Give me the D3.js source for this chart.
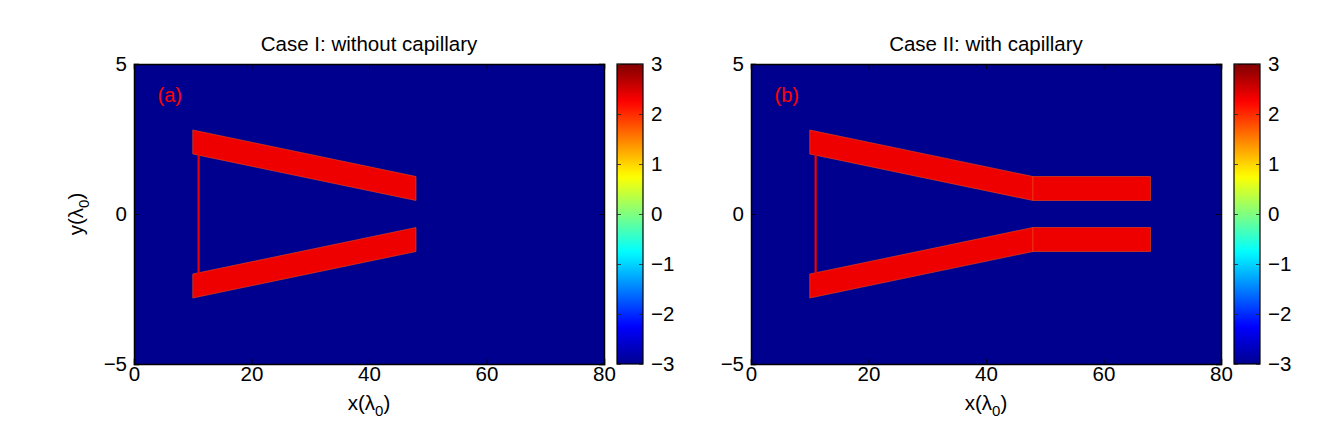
<!DOCTYPE html>
<html><head><meta charset="utf-8">
<script src="https://cdn.jsdelivr.net/npm/d3@7"></script>
<style>
body{margin:0;background:#fff;}
text{font-family:"Liberation Sans",Arial,Helvetica,sans-serif;}
</style></head>
<body>
<svg id="chart" width="1342" height="430"></svg>
<script>
// ---- data ----
const panelTitles = ["Case I: without capillary", "Case II: with capillary"];
const panelLabels = ["(a)", "(b)"];
const xTicks = [0, 20, 40, 60, 80];
const yTicks = [-5, 0, 5];
const cbTicks = [-3, -2, -1, 0, 1, 2, 3];
const xDomain = [0, 80];
const yDomain = [-5, 5];
const cDomain = [-3, 3];
const backgroundValue = -3;
// horn (tapered waveguide) arms: x positions and y edges
const hornX = [10, 48];
const upperTop = [2.8, 1.25];
const upperBottom = [2.0, 0.45];
const lowerTop = [-2.0, -0.45];
const lowerBottom = [-2.8, -1.25];
// back wall connecting the arms
const wallX = 11;
const wallY = [-2.0, 2.0];
// capillary (only case II)
const capX = [48, 68];
const capUpper = [0.45, 1.25];
const capLower = [-1.25, -0.45];
const hasCapillary = [false, true];

// ---- layout ----
const svg = d3.select("#chart");
const panels = [{x0: 134, cbx: 617}, {x0: 751, cbx: 1234}];
const W = 470, plotTop = 64, H = 300, cbW = 26;
const tickFont = 20.5;

// jet colormap
const jetStops = [[0,"#00008f"],[0.125,"#0000ff"],[0.375,"#00ffff"],[0.625,"#ffff00"],[0.875,"#ff0000"],[1,"#800000"]];
const jet = d3.scaleLinear().domain(jetStops.map(d=>d[0])).range(jetStops.map(d=>d[1])).interpolate(d3.interpolateRgb);
const cNorm = d3.scaleLinear().domain(cDomain).range([0,1]).clamp(true);
const colorOf = v => jet(cNorm(v));
const redCol = "#ee0000";
const blueCol = colorOf(backgroundValue);

const defs = svg.append("defs");
const grad = defs.append("linearGradient").attr("id","jetgrad").attr("x1",0).attr("y1",1).attr("x2",0).attr("y2",0);
d3.range(0, 1.0001, 0.02).forEach(t => grad.append("stop").attr("offset", t).attr("stop-color", jet(t)));

panels.forEach((p, i) => {
  const x = d3.scaleLinear().domain(xDomain).range([p.x0, p.x0 + W]);
  const y = d3.scaleLinear().domain(yDomain).range([plotTop + H, plotTop]);
  const g = svg.append("g");

  g.append("rect").attr("x", x(xDomain[0])).attr("y", y(yDomain[1]))
    .attr("width", x(xDomain[1]) - x(xDomain[0])).attr("height", y(yDomain[0]) - y(yDomain[1]))
    .attr("fill", blueCol);

  const poly = pts => "M" + pts.map(d => x(d[0]) + "," + y(d[1])).join("L") + "Z";
  const shapes = [
    [[hornX[0], upperBottom[0]], [hornX[0], upperTop[0]], [hornX[1], upperTop[1]], [hornX[1], upperBottom[1]]],
    [[hornX[0], lowerBottom[0]], [hornX[0], lowerTop[0]], [hornX[1], lowerTop[1]], [hornX[1], lowerBottom[1]]]
  ];
  if (hasCapillary[i]) {
    shapes.push([[capX[0], capUpper[0]], [capX[0], capUpper[1]], [capX[1], capUpper[1]], [capX[1], capUpper[0]]]);
    shapes.push([[capX[0], capLower[0]], [capX[0], capLower[1]], [capX[1], capLower[1]], [capX[1], capLower[0]]]);
  }
  g.selectAll("path.shape").data(shapes).enter().append("path").attr("class","shape")
    .attr("d", poly).attr("fill", redCol).attr("stroke", "#f04a10").attr("stroke-width", 0.6).attr("stroke-linejoin","miter");
  g.append("line").attr("x1", x(wallX)).attr("x2", x(wallX)).attr("y1", y(wallY[0])).attr("y2", y(wallY[1]))
    .attr("stroke", redCol).attr("stroke-width", 2.2);

  // axes (inward ticks)
  const fmt = d => d < 0 ? "\u2212" + Math.abs(d) : String(d);
  const axB = d3.axisBottom(x).tickValues(xTicks).tickSize(-5).tickPadding(2).tickFormat(d3.format("d"));
  const axT = d3.axisTop(x).tickValues(xTicks).tickSize(-5).tickFormat("");
  const axL = d3.axisLeft(y).tickValues(yTicks).tickSize(-5).tickPadding(7).tickFormat(fmt);
  const axR = d3.axisRight(y).tickValues(yTicks).tickSize(-5).tickFormat("");
  [[axB, `translate(0,${plotTop+H})`], [axT, `translate(0,${plotTop})`], [axL, `translate(${p.x0},0)`], [axR, `translate(${p.x0+W},0)`]].forEach(([ax, tr]) => {
    const a = g.append("g").attr("transform", tr).call(ax);
    a.select(".domain").attr("stroke", "#000").attr("stroke-width", 1.5);
    a.selectAll(".tick line").attr("stroke", "#000").attr("stroke-width", 0.8);
    a.selectAll("text").attr("font-size", tickFont).attr("fill", "#000").attr("font-family", "Liberation Sans, Arial, sans-serif");
  });

  // title
  g.append("text").attr("x", p.x0 + W / 2).attr("y", 51).attr("text-anchor", "middle")
    .attr("font-size", 20.5).text(panelTitles[i]);
  // panel label
  g.append("text").attr("x", x(4)).attr("y", y(3.75)).attr("fill", "#ff0000")
    .attr("font-size", 20).text(panelLabels[i]);

  // colorbar
  const cy = d3.scaleLinear().domain(cDomain).range([plotTop + H, plotTop]);
  const cb = svg.append("g");
  cb.append("rect").attr("x", p.cbx).attr("y", plotTop).attr("width", cbW).attr("height", H)
    .attr("fill", "url(#jetgrad)").attr("stroke", "#000").attr("stroke-width", 1.2);
  const cAxR = d3.axisRight(cy).tickValues(cbTicks).tickSize(-4).tickPadding(8).tickFormat(fmt);
  const cAxL = d3.axisLeft(cy).tickValues(cbTicks).tickSize(-4).tickFormat("");
  [[cAxR, p.cbx + cbW], [cAxL, p.cbx]].forEach(([ax, xx]) => {
    const a = cb.append("g").attr("transform", `translate(${xx},0)`).call(ax);
    a.select(".domain").remove();
    a.selectAll(".tick line").attr("stroke", "#222").attr("stroke-width", 0.8);
    a.selectAll("text").attr("font-size", tickFont).attr("fill", "#000").attr("font-family", "Liberation Sans, Arial, sans-serif");
  });

  // axis labels
  const xl = g.append("text").attr("x", p.x0 + W / 2).attr("y", 410).attr("text-anchor", "middle").attr("font-size", 20.5);
  xl.append("tspan").text("x(\u03bb");
  xl.append("tspan").attr("font-size", 15).attr("dy", 6).text("0");
  xl.append("tspan").attr("dy", -6).text(")");
  if (i === 0) {
    const yl = g.append("text").attr("transform", `translate(83,${plotTop + H / 2}) rotate(-90)`).attr("text-anchor", "middle").attr("font-size", 20.5);
    yl.append("tspan").text("y(\u03bb");
    yl.append("tspan").attr("font-size", 15).attr("dy", 6).text("0");
    yl.append("tspan").attr("dy", -6).text(")");
  }
});
</script>
</body></html>
